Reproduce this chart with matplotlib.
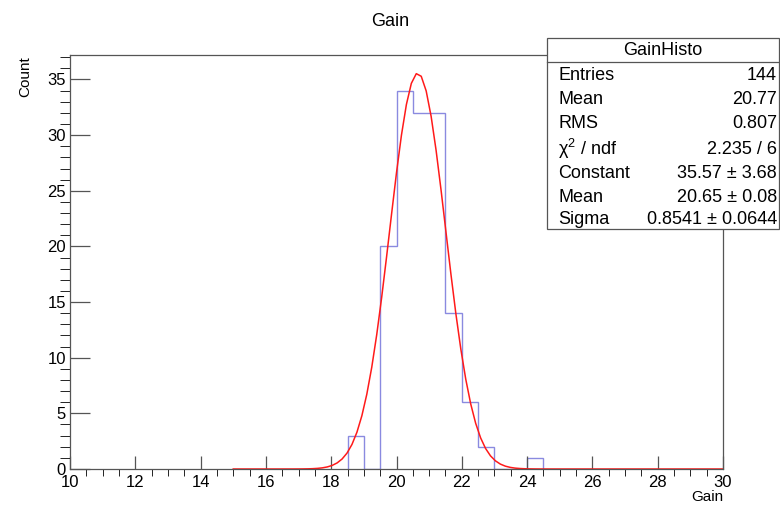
"""
Gain distribution histogram with a Gaussian fit and a stats box.
"""

import numpy as np
import matplotlib
matplotlib.use('Agg')
import matplotlib.pyplot as plt
from matplotlib.ticker import MultipleLocator
from matplotlib.patches import Rectangle

plt.rcParams['font.family'] = ['Liberation Sans', 'DejaVu Sans']
plt.rcParams['mathtext.fontset'] = 'custom'
plt.rcParams['mathtext.rm'] = 'Liberation Sans'

# Histogram bins (width 0.5) and counts
bin_edges = [18.5, 19.0, 19.5, 20.0, 20.5, 21.0, 21.5, 22.0, 22.5, 23.0, 23.5, 24.0, 24.5]
bin_counts = [3, 0, 20, 34, 32, 32, 14, 6, 2, 0, 0, 1]

# Gaussian fit parameters and range
fit_constant = 35.57
fit_mean = 20.65
fit_sigma = 0.8541
fit_range = (15.0, 30.0)

# Stats box rows
stats_labels = ['Entries', 'Mean', 'RMS', 'χ$^{2}$ / ndf', 'Constant', 'Mean', 'Sigma']
stats_values = ['144', '20.77', '0.807', '2.235 / 6',
                '35.57 ± 3.68', '20.65 ± 0.08', '0.8541 ± 0.0644']

W, H = 780, 507
fig = plt.figure(figsize=(W / 100, H / 100), dpi=100)
ax = fig.add_axes([70 / W, 1 - 469 / H, (723 - 70) / W, (469 - 55) / H])

frame_col = '#555555'
for s in ax.spines.values():
    s.set_color(frame_col)
    s.set_linewidth(0.9)

# histogram outline
ax.stairs(bin_counts, bin_edges, color='#8a8ae0', linewidth=1.0, baseline=0)

# fitted gaussian
x = np.linspace(fit_range[0], fit_range[1], 100)
y = fit_constant * np.exp(-0.5 * ((x - fit_mean) / fit_sigma) ** 2)
ax.plot(x, y, color='#ff1a1a', linewidth=1.1)

ax.set_xlim(10, 30)
ax.set_ylim(0, 37.2)

ax.xaxis.set_major_locator(MultipleLocator(2))
ax.xaxis.set_minor_locator(MultipleLocator(0.5))
ax.yaxis.set_major_locator(MultipleLocator(5))
ax.yaxis.set_minor_locator(MultipleLocator(1))
ax.tick_params(axis='both', direction='in', colors=frame_col, labelcolor='black',
               labelsize=12, top=False, right=False, width=0.9)
ax.tick_params(axis='x', which='major', length=9.2, pad=4)
ax.tick_params(axis='x', which='minor', length=4.8)
ax.tick_params(axis='y', which='major', length=14.4, pad=3)
ax.tick_params(axis='y', which='minor', length=7.2)

# titles
fig.text(390 / W, 1 - 22 / H, 'Gain', ha='center', va='center', fontsize=13)
fig.text(723 / W, 1 - 497 / H, 'Gain', ha='right', va='center', fontsize=11)
fig.text(25 / W, 1 - 56 / H, 'Count', ha='center', va='top', rotation=90, fontsize=11)

# stats box
bx0, bx1, by0, by1 = 547, 779, 38, 229
fig.patches.append(Rectangle((bx0 / W, 1 - by1 / H), (bx1 - bx0) / W, (by1 - by0) / H,
                             transform=fig.transFigure, facecolor='white',
                             edgecolor=frame_col, linewidth=0.9, zorder=5))
fig.add_artist(plt.Line2D([bx0 / W, bx1 / W], [1 - 62 / H, 1 - 62 / H],
                          transform=fig.transFigure, color=frame_col, linewidth=0.9, zorder=6))
fig.text((bx0 + bx1) / 2 / W, 1 - 50 / H, 'GainHisto', ha='center', va='center',
         fontsize=13, zorder=7)
row_y = [75, 100, 124, 149, 173, 198, 220]
for lab, val, ry in zip(stats_labels, stats_values, row_y):
    fig.text(558 / W, 1 - ry / H, lab, ha='left', va='center', fontsize=13, zorder=7)
    fig.text(777 / W, 1 - ry / H, val, ha='right', va='center', fontsize=13, zorder=7)

fig.savefig('out.png', dpi=100, facecolor='white')
